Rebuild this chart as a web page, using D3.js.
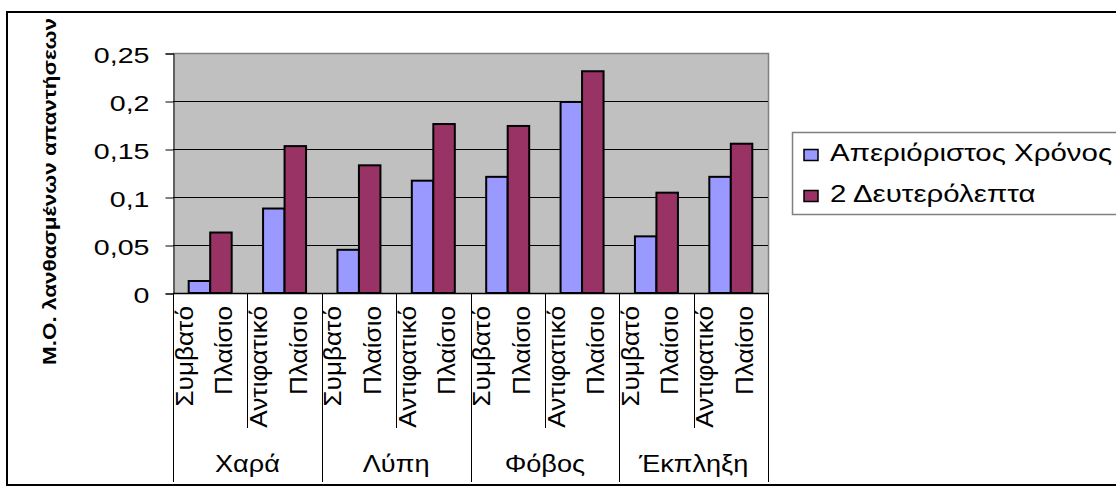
<!DOCTYPE html>
<html><head><meta charset="utf-8">
<script src="https://cdn.jsdelivr.net/npm/d3@7"></script>
<style>body{margin:0;background:#fff}svg{display:block}text{font-family:"Liberation Sans",Arial,sans-serif;fill:#000}</style>
</head><body><svg id="c" width="1116" height="499"></svg>
<script>
const groups = ["Χαρά","Λύπη","Φόβος","Έκπληξη"];
const contexts = ["Συμβατό Πλαίσιο","Αντιφατικό Πλαίσιο"];
const seriesNames = ["Απεριόριστος Χρόνος","2 Δευτερόλεπτα"];
const unlimitedTime = [0.0125, 0.088, 0.045, 0.117, 0.121, 0.199, 0.059, 0.121];
const twoSeconds   = [0.063, 0.153, 0.133, 0.176, 0.174, 0.231, 0.1045, 0.1555];
const yTicks = [0, 0.05, 0.1, 0.15, 0.2, 0.25];
const yTickLabels = ["0","0,05","0,1","0,15","0,2","0,25"];
const yTitle = "Μ.Ο. λανθασμένων απαντήσεων";
const colors = ["#9999FF","#993366"];

const svg = d3.select("#c");
const plot = {l:173, r:768, t:53, b:293};
const cats = groups.flatMap(g => contexts.map(c => g + "|" + c));
const x = d3.scaleBand().domain(cats).range([plot.l, plot.r]).padding(0);
const xs = d3.scaleBand().domain([0,1]).range([0, x.bandwidth()]).paddingInner(0).paddingOuter(0.73);
const y = d3.scaleLinear().domain([0, 0.25]).range([plot.b, plot.t]);

// outer border
svg.append("rect").attr("x",7).attr("y",12).attr("width",1140).attr("height",473)
  .attr("fill","#fff").attr("stroke","#000").attr("stroke-width",2);

// plot area
svg.append("rect").attr("x",plot.l).attr("y",plot.t).attr("width",plot.r-plot.l).attr("height",plot.b-plot.t)
  .attr("fill","#C0C0C0");
svg.append("path").attr("d",`M${plot.l},${plot.t+0.5}H${plot.r+0.5}V${plot.b}`)
  .attr("fill","none").attr("stroke","#808080").attr("stroke-width",1.5);

// gridlines
svg.append("g").selectAll("line").data(yTicks.filter(t => t>0 && t<0.25)).join("line")
  .attr("x1",plot.l).attr("x2",plot.r).attr("y1",d=>Math.round(y(d))+0.5).attr("y2",d=>Math.round(y(d))+0.5)
  .attr("stroke","#000").attr("stroke-width",1);

// y axis
const yAxis = d3.axisLeft(y).tickValues(yTicks).tickSize(8).tickFormat((d,i)=>yTickLabels[i]);
const ya = svg.append("g").attr("transform",`translate(${plot.l+0.5},0.5)`).call(yAxis);
ya.select(".domain").attr("stroke","#000");
ya.selectAll(".tick line").attr("stroke","#000");
ya.selectAll(".tick text").attr("x",null).attr("dy",null)
  .attr("font-size",22).attr("font-family",null).attr("text-anchor","end")
  .attr("transform","translate(-24,8.5) scale(1.3,1)");

// bars
const series = [unlimitedTime, twoSeconds];
series.forEach((vals, si) => {
  svg.append("g").selectAll("rect").data(vals).join("rect")
    .attr("x",(d,i)=>x(cats[i]) + xs(si))
    .attr("width",xs.bandwidth())
    .attr("y",d=>y(d))
    .attr("height",d=>y(0)-y(d))
    .attr("fill",colors[si]).attr("stroke","#000").attr("stroke-width",2);
});

// x axis line
svg.append("line").attr("x1",plot.l).attr("x2",plot.r).attr("y1",plot.b+0.5).attr("y2",plot.b+0.5)
  .attr("stroke","#000").attr("stroke-width",1.5);

// category separator ticks
const bounds = d3.range(cats.length+1);
svg.append("g").selectAll("line").data(bounds).join("line")
  .attr("x1",i=>Math.round(plot.l + i*x.step())+0.5).attr("x2",i=>Math.round(plot.l + i*x.step())+0.5)
  .attr("y1",plot.b).attr("y2",i=> i%2===0 ? 482 : 428)
  .attr("stroke","#000").attr("stroke-width",1);

// category labels (rotated, two lines)
const catG = svg.append("g");
cats.forEach(c => {
  const words = c.split("|")[1].split(" ");
  const cx = x(c) + x.bandwidth()/2;
  const offs = [-17.5, 22];
  words.forEach((w, wi) => {
    catG.append("text").attr("transform",`translate(${cx+offs[wi]},306) rotate(-90) scale(1.09,1)`)
      .attr("text-anchor","end").attr("font-size",24).text(w);
  });
});

// group labels
groups.forEach((g, gi) => {
  const cx = plot.l + (gi*2+1)*x.step();
  svg.append("text").attr("transform",`translate(${cx},472) scale(1.13,1)`)
    .attr("text-anchor","middle").attr("font-size",24).text(g);
});

// y title
svg.append("text")
  .attr("transform","translate(56,365) rotate(-90) scale(1.25,1)")
  .attr("font-size",18).attr("font-weight","bold").attr("text-anchor","start").text(yTitle);

// legend
const lg = svg.append("g");
lg.append("rect").attr("x",792.5).attr("y",132.5).attr("width",400).attr("height",82)
  .attr("fill","#fff").attr("stroke","#808080").attr("stroke-width",1.5);
seriesNames.forEach((n, i) => {
  const by = 160.5 + i*41;
  lg.append("rect").attr("x",804).attr("y",by-11).attr("width",14).attr("height",11)
    .attr("fill",colors[i]).attr("stroke","#000").attr("stroke-width",1.5);
  lg.append("text").attr("transform",`translate(830,${by}) scale(1.28,1)`)
    .attr("font-size",23).text(n);
});
</script></body></html>
